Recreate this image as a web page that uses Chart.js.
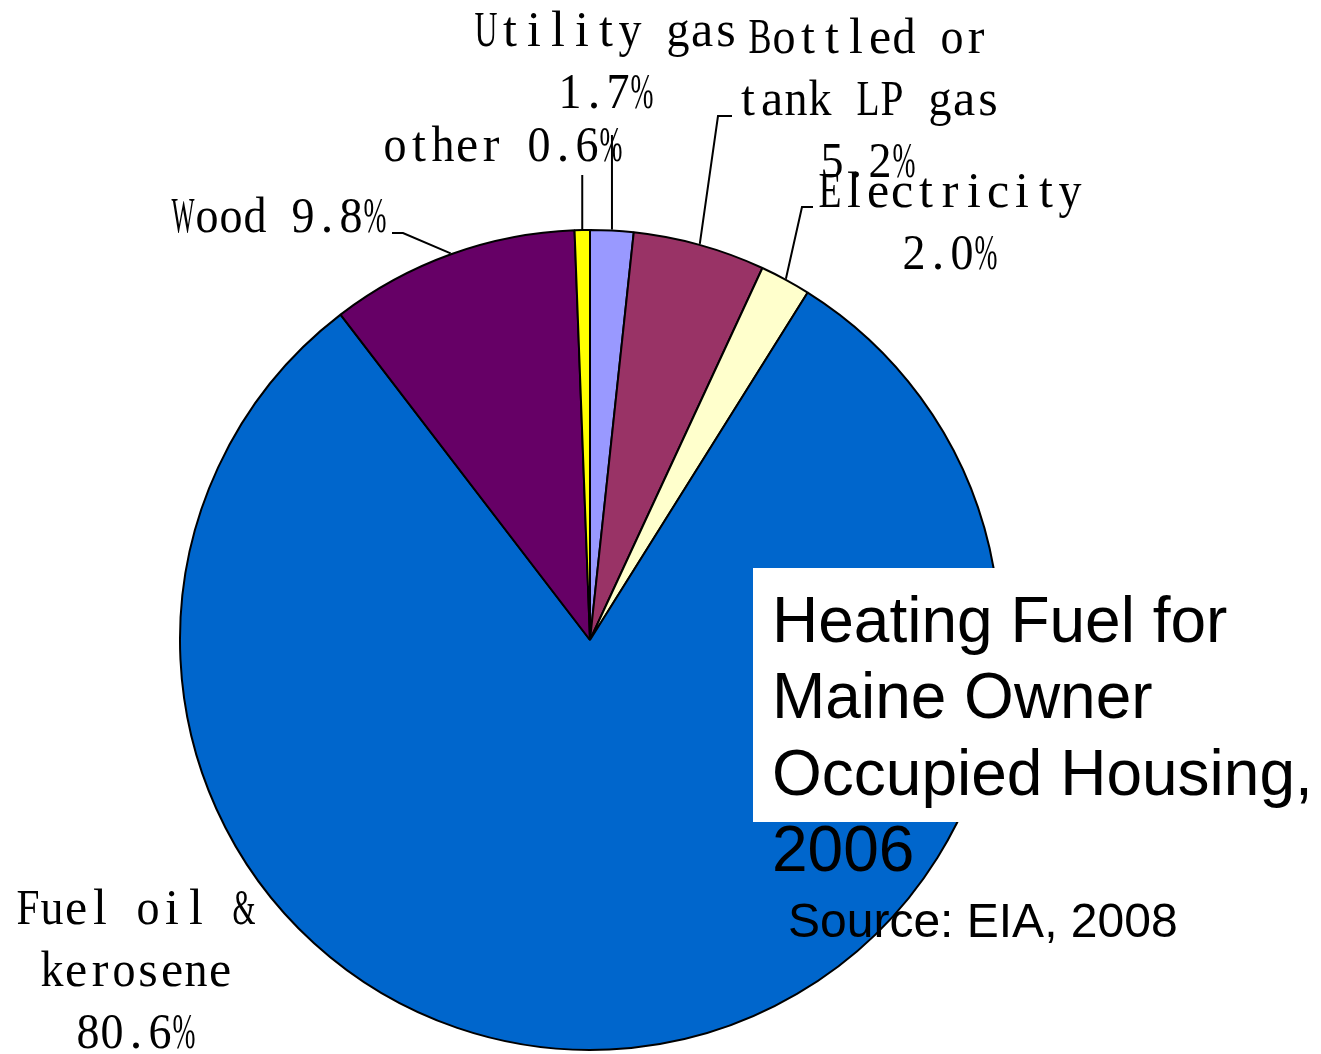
<!DOCTYPE html>
<html>
<head>
<meta charset="utf-8">
<script src="https://cdn.jsdelivr.net/npm/chart.js@4"></script>
<style>
  html, body { margin: 0; padding: 0; background: #fff; }
  canvas { display: block; }
</style>
</head>
<body>
<canvas id="myChart" width="1321" height="1054"></canvas>
<script>
// 데이터 (시계 방향, 12시부터)
const categories = ['Utility gas', 'Bottled or tank LP gas', 'Electricity', 'Fuel oil & kerosene', 'Wood', 'other'];
const shares = [1.7, 5.2, 2.0, 80.6, 9.8, 0.6];
const colors = ['#9999FF', '#993366', '#FFFFCC', '#0066CC', '#660066', '#FFFF00'];
// 라벨 줄바꿈 (마지막 줄에 % 붙음)
const labelLines = [['Utility gas', ''], ['Bottled or', 'tank LP gas', ''], ['Electricity', ''], ['Fuel oil &', 'kerosene', ''], ['Wood '], ['other ']];
const titleLines = ['Heating Fuel for', 'Maine Owner', 'Occupied Housing,', '2006'];
const sourceText = 'Source: EIA, 2008';

// 라벨 위치 / 지시선
const labelPos = [
  { cx: 606, y: 46, leader: [[null, 135]] },
  { cx: 868, y: 53, leader: [[718, 116], [732, 116]] },
  { cx: 950, y: 207, leader: [[802, 207], [813, 207]] },
  { cx: 136, y: 924, leader: null },
  { cx: 279, y: 232, leader: [[403, 233], [392, 233]] },
  { cx: 503, y: 161, leader: [[null, 175]] }
];
const lineH = 62;
const cell = 24;

function monoText(ctx, text, cx, y) {
  let x = cx - text.length * cell / 2;
  for (const ch of text) {
    if (ch !== ' ') ctx.fillText(ch, x + cell / 2, y, cell - 1);
    x += cell;
  }
}

const overlay = {
  id: 'overlay',
  afterDraw(chart) {
    const ctx = chart.ctx;
    ctx.save();
    // 제목 박스
    ctx.fillStyle = '#fff';
    ctx.fillRect(753, 568, 568, 254);
    ctx.fillStyle = '#000';
    ctx.textAlign = 'left';
    ctx.textBaseline = 'alphabetic';
    ctx.font = '64px "Liberation Sans", Arial, sans-serif';
    titleLines.forEach((t, i) => ctx.fillText(t, 772, 642 + i * 76.4));
    ctx.font = '48px "Liberation Sans", Arial, sans-serif';
    ctx.fillText(sourceText, 788, 937);

    // 지시선 + 라벨
    const meta = chart.getDatasetMeta(0);
    ctx.strokeStyle = '#000';
    ctx.lineWidth = 2;
    meta.data.forEach((arc, i) => {
      const p = arc.getProps(['x', 'y', 'startAngle', 'endAngle', 'outerRadius'], true);
      const mid = (p.startAngle + p.endAngle) / 2;
      const sx = p.x + Math.cos(mid) * (p.outerRadius + 1);
      const sy = p.y + Math.sin(mid) * (p.outerRadius + 1);
      const lp = labelPos[i];
      if (lp.leader) {
        ctx.beginPath();
        ctx.moveTo(sx, sy);
        lp.leader.forEach(pt => ctx.lineTo(pt[0] === null ? sx : pt[0], pt[1]));
        ctx.stroke();
      }
    });
    ctx.font = '50px "Liberation Serif", "Times New Roman", serif';
    ctx.textAlign = 'center';
    labelLines.forEach((lines, i) => {
      const lp = labelPos[i];
      lines.forEach((t, j) => {
        let s = t;
        if (j === lines.length - 1) s = t + shares[i].toFixed(1) + '%';
        monoText(ctx, s, lp.cx, lp.y + j * lineH);
      });
    });
    ctx.restore();
  }
};

new Chart(document.getElementById('myChart'), {
  type: 'pie',
  data: {
    labels: categories,
    datasets: [{
      data: shares,
      backgroundColor: colors,
      borderColor: '#000',
      borderWidth: 2
    }]
  },
  options: {
    responsive: false,
    animation: false,
    layout: { padding: { left: 179, right: 320, top: 229, bottom: 3 } },
    plugins: {
      legend: { display: false },
      tooltip: { enabled: false }
    }
  },
  plugins: [overlay]
});
</script>
</body>
</html>
